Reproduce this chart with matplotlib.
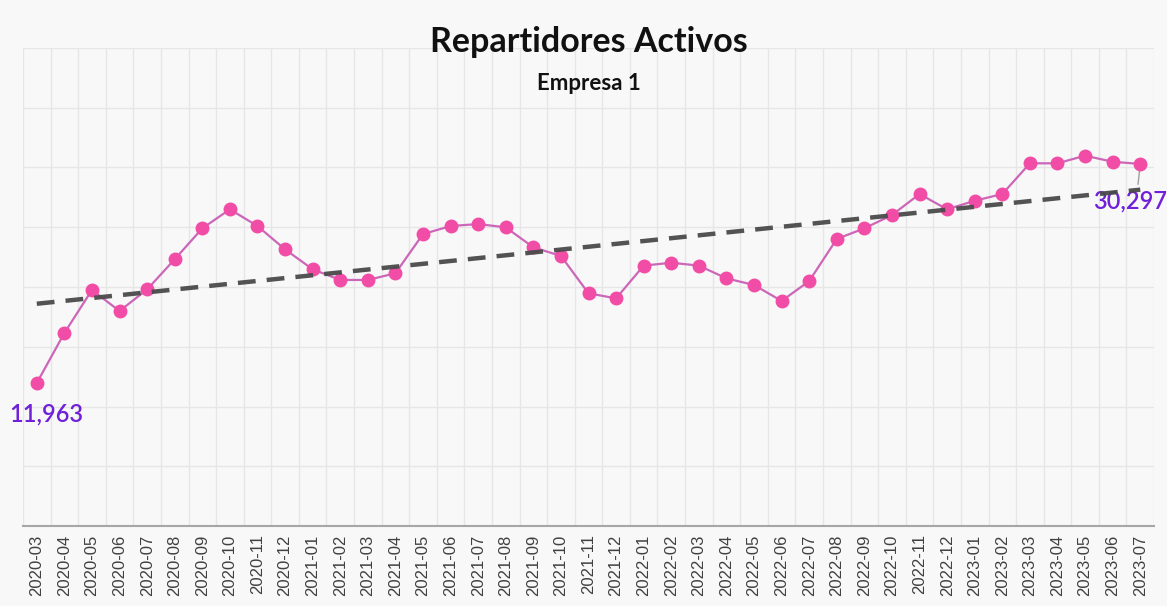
import numpy as np
import matplotlib
matplotlib.use("Agg")
import matplotlib.pyplot as plt

# monthly active couriers, Empresa 1
months = ["2020-03", "2020-04", "2020-05", "2020-06", "2020-07", "2020-08", "2020-09",
          "2020-10", "2020-11", "2020-12", "2021-01", "2021-02", "2021-03", "2021-04",
          "2021-05", "2021-06", "2021-07", "2021-08", "2021-09", "2021-10", "2021-11",
          "2021-12", "2022-01", "2022-02", "2022-03", "2022-04", "2022-05", "2022-06",
          "2022-07", "2022-08", "2022-09", "2022-10", "2022-11", "2022-12", "2023-01",
          "2023-02", "2023-03", "2023-04", "2023-05", "2023-06", "2023-07"]
repartidores = [11963, 16150, 19750, 17990, 19800, 22320, 24910,
                26500, 25100, 23150, 21480, 20590, 20590, 21150,
                24430, 25100, 25270, 24990, 23320, 22600, 19470,
                19050, 21790, 22030, 21790, 20720, 20170, 18830,
                20500, 24020, 24910, 26020, 27780, 26500, 27220,
                27780, 30350, 30350, 30990, 30480, 30297]

BG = "#f8f8f8"
x = np.arange(len(months))
y = np.array(repartidores)

fig = plt.figure(figsize=(11.67, 6.06), dpi=100, facecolor=BG)
ax = fig.add_axes([0.0197, 0.132, 0.9692, 0.7888], facecolor=BG)

# grid: horizontal every 5000, vertical at category boundaries
ax.set_ylim(0, 40000)
ax.set_yticks(np.arange(0, 40001, 5000))
ax.set_xlim(-0.5, len(months) - 0.5)
ax.set_xticks(x)
ax.set_xticklabels(months, rotation=90, fontsize=12, color="#404040",
                   family="Liberation Sans")
ax.set_xticks(np.arange(-0.5, len(months), 1.0), minor=True)
ax.grid(True, which="minor", axis="x", color="#e6e6e6", lw=1)
ax.grid(True, which="major", axis="y", color="#e6e6e6", lw=1)
ax.tick_params(axis="x", which="both", length=0, pad=6)
ax.tick_params(axis="y", length=0, labelleft=False)
for s in ["top", "left", "right"]:
    ax.spines[s].set_visible(False)
ax.spines["bottom"].set_color("#a6a6a6")
ax.spines["bottom"].set_linewidth(1.5)
ax.set_axisbelow(True)

# series
ax.plot(x, y, color="#cc66b8", lw=1.6, zorder=3)
ax.plot(x, y, "o", ms=9, color="#f24da6", mec="#f24da6", zorder=4)

# linear trend
k, b = np.polyfit(x, y, 1)
ax.plot(x, k * x + b, ls=(0, (4, 2.5)), color="#4a4a4a", lw=3.2, alpha=0.95, zorder=5)

# first / last value labels
lab_kw = dict(color="#7020d8", fontsize=17, family="Lato", fontweight="semibold",
              va="center")
ax.annotate(f"{repartidores[0]:,}", (x[0], y[0]), xytext=(-20, -22),
            textcoords="offset points", **lab_kw)
ax.annotate(f"{repartidores[-1]:,}", (x[-1], y[-1]), xytext=(-34, -27),
            textcoords="offset points", annotation_clip=False,
            arrowprops=dict(arrowstyle="-", color="#a0a0a0", lw=1,
                            shrinkA=2, shrinkB=5,
                            relpos=(0.6, 1.0)), **lab_kw)

fig.text(0.505, 0.905, "Repartidores Activos", ha="center", va="bottom",
         fontsize=24.5, fontweight="bold", family="Lato", color="#111111")
fig.text(0.505, 0.845, "Empresa 1", ha="center", va="bottom",
         fontsize=16, fontweight="bold", family="Lato", color="#111111")

fig.savefig("out.png", dpi=100, facecolor=BG)
